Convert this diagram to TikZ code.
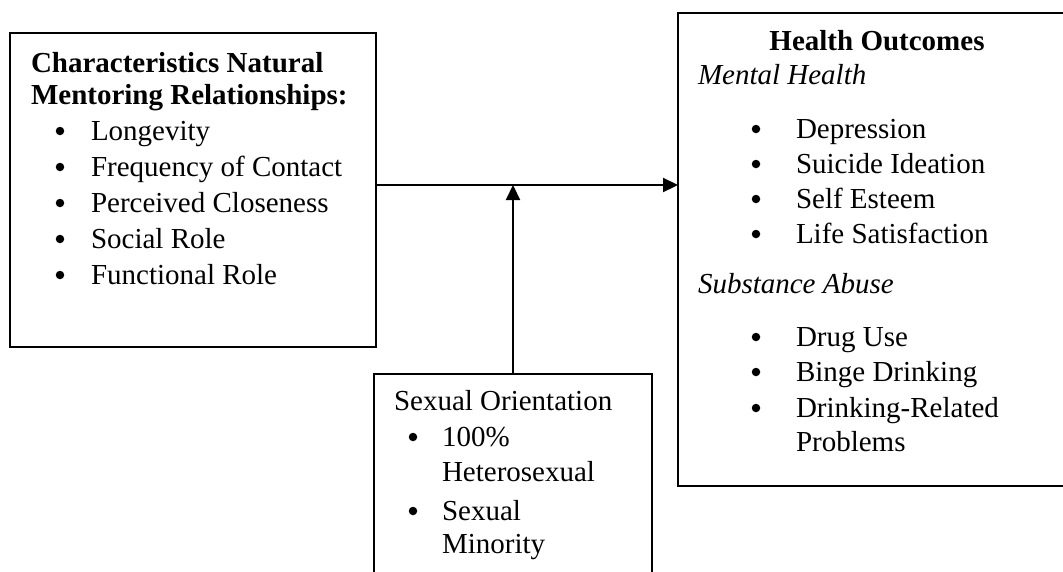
\documentclass[tikz,border=0pt]{standalone}
\usepackage{fontspec}
\setmainfont{Liberation Serif}
\usetikzlibrary{arrows.meta}
\begin{document}
\begin{tikzpicture}[x=1pt,y=-1pt,
  every node/.style={inner sep=0pt, outer sep=0pt, font=\fontsize{29}{35}\selectfont},
  txt/.style={anchor=base west},
  head/.style={anchor=base, font=\fontsize{29}{35}\selectfont\bfseries},
  dot/.style={circle, fill=black, minimum size=8.5pt},
  frame/.style={draw=black, line width=2pt, fill=none},
  thinframe/.style={draw=black, line width=1.6pt},
  link/.style={draw=black, line width=2.2pt, -{Triangle[length=15pt,width=14pt]}}]
\useasboundingbox (0,0) rectangle (1063,571);
\clip (0,0) rectangle (1063,571);

% boxes
\node[frame, anchor=north west, minimum width=366pt, minimum height=314pt] (chars) at (10,33) {};
\node[frame, anchor=north west, minimum width=400pt, minimum height=473pt] (health) at (678,13) {};
\node[thinframe, anchor=north west, minimum width=278pt, minimum height=240pt] (orient) at (374,374) {};

% characteristics of natural mentoring relationships
\node[txt, font=\fontsize{29}{35}\selectfont\bfseries] (c1) at (31,72) {Characteristics Natural};
\node[txt, font=\fontsize{29}{35}\selectfont\bfseries] (c2) at (31,104) {Mentoring Relationships:};
\foreach \y/\t [count=\i] in {140/Longevity, 176/Frequency of Contact, 212/Perceived Closeness, 248/Social Role, 284/Functional Role}{
  \node[dot] (cb\i) at (60,\y-9) {};
  \node[txt] (ci\i) at (91,\y) {\t};
}

% health outcomes
\node[head] (h0) at (877,50) {Health Outcomes};
\node[txt, font=\fontsize{29}{35}\selectfont\itshape] (h1) at (698,84) {Mental Health};
\foreach \y/\t [count=\i] in {138/Depression, 173/Suicide Ideation, 208/Self Esteem, 243/Life Satisfaction}{
  \node[dot] (mb\i) at (756,\y-9) {};
  \node[txt] (mi\i) at (796,\y) {\t};
}
\node[txt, font=\fontsize{29}{35}\selectfont\itshape] (h2) at (698,293) {Substance Abuse};
\foreach \y/\t [count=\i] in {346/Drug Use, 381/Binge Drinking, 417/Drinking-Related}{
  \node[dot] (sb\i) at (756,\y-9) {};
  \node[txt] (si\i) at (796,\y) {\t};
}
\node[txt] (si4) at (796,451) {Problems};

% sexual orientation
\node[txt] (o0) at (394,410) {Sexual Orientation};
\node[dot] (ob1) at (413,437) {};
\node[txt] (oi1) at (442,446) {100\%};
\node[txt] (oi1b) at (442,481) {Heterosexual};
\node[dot] (ob2) at (413,511) {};
\node[txt] (oi2) at (442,520) {Sexual};
\node[txt] (oi2b) at (442,553) {Minority};

% connectors
\draw[link] (chars.east |- 0,185) -- (health.west |- 0,185);
\draw[link] (orient.north) -- (orient.north |- 0,185);
\end{tikzpicture}
\end{document}
